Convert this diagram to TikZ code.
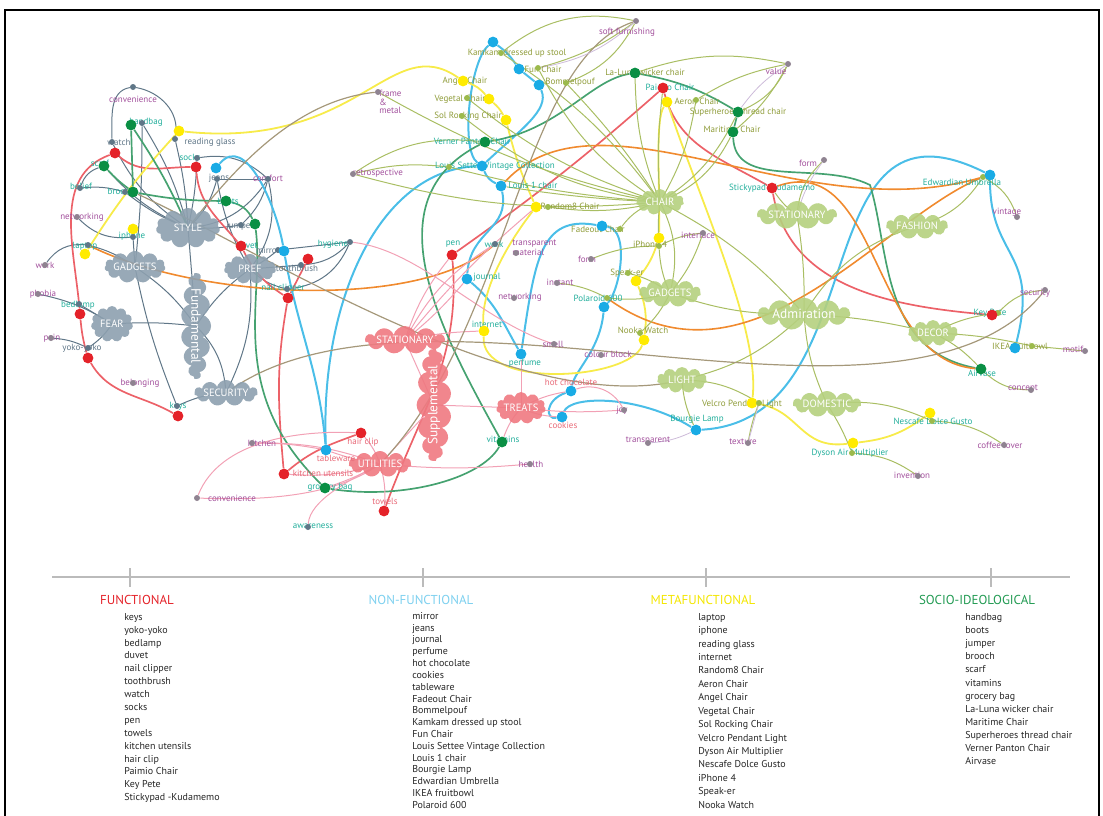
\documentclass[tikz,border=0pt]{standalone}
\usepackage{fontspec}
\setmainfont{PT Sans}
\usetikzlibrary{shapes.symbols}

\definecolor{slate}{HTML}{5F7687}
\definecolor{attrgrey}{HTML}{8F8391}
\definecolor{olivedot}{HTML}{9CBA4C}
\definecolor{dotred}{HTML}{E42229}
\definecolor{dotblue}{HTML}{19ABE5}
\definecolor{dotyellow}{HTML}{FFEB00}
\definecolor{dotgreen}{HTML}{0A8F44}
\definecolor{greyclus}{HTML}{8DA0AF}
\definecolor{pinkclus}{HTML}{EF7981}
\definecolor{greenclus}{HTML}{B5D07E}
\definecolor{labteal}{HTML}{22AE9B}
\definecolor{labpurple}{HTML}{A2509C}
\definecolor{labolive}{HTML}{8F9C3A}
\definecolor{labpink}{HTML}{E86A78}
\definecolor{linered}{HTML}{EC6168}
\definecolor{lineblue}{HTML}{4ABEE8}
\definecolor{lineyellow}{HTML}{F7EB4A}
\definecolor{linegreen}{HTML}{45A270}
\definecolor{lineolive}{HTML}{A9BE63}
\definecolor{linepink}{HTML}{F2A1B5}
\definecolor{lineorange}{HTML}{F08A2E}
\definecolor{linebrown}{HTML}{A5987A}
\definecolor{linelav}{HTML}{CDBBD9}
\definecolor{rulegrey}{HTML}{BBBBBB}
\definecolor{nfblue}{HTML}{7DD0EF}
\definecolor{metayel}{HTML}{F3E600}
\definecolor{socgreen}{HTML}{219A52}

\pgfdeclarelayer{bg}
\pgfsetlayers{bg,main}

\begin{document}
\begin{tikzpicture}[x=0.25mm, y=-0.25mm,
  lab/.style={inner sep=0pt, font=\fontsize{6.4}{7}\selectfont},
  labT/.style={lab, text=labteal},
  labP/.style={lab, text=labpurple},
  labO/.style={lab, text=labolive},
  labS/.style={lab, text=slate},
  labK/.style={lab, text=labpink},
  bigdot/.style={circle, inner sep=0pt, minimum size=2.7mm},
  rdot/.style={bigdot, fill=dotred},
  bdot/.style={bigdot, fill=dotblue},
  ydot/.style={bigdot, fill=dotyellow},
  gdot/.style={bigdot, fill=dotgreen},
  smalldot/.style={circle, inner sep=0pt, minimum size=1.5mm},
  sdot/.style={smalldot, fill=slate},
  adot/.style={smalldot, fill=attrgrey},
  odot/.style={smalldot, fill=olivedot},
  clus/.style={cloud, cloud puffs=11, cloud ignores aspect, inner sep=0pt, text=white,
    font=\fontsize{7.5}{8}\selectfont, fill opacity=0.9, text opacity=1},
  grcl/.style={clus, fill=greyclus},
  pkcl/.style={clus, fill=pinkclus},
  gncl/.style={clus, fill=greenclus},
  sline/.style={draw=slate, line width=0.25mm},
  rline/.style={draw=linered, line width=0.42mm},
  bline/.style={draw=lineblue, line width=0.5mm},
  yline/.style={draw=lineyellow, line width=0.45mm},
  gline/.style={draw=linegreen, line width=0.42mm},
  oline/.style={draw=lineolive, line width=0.25mm},
  pline/.style={draw=linepink, line width=0.25mm},
  orline/.style={draw=lineorange, line width=0.4mm},
  brline/.style={draw=linebrown, line width=0.3mm},
  lvline/.style={draw=linelav, line width=0.2mm},
  head/.style={inner sep=0pt, font=\fontsize{9.2}{10}\selectfont},
  itemlist/.style={anchor=north west, align=left, inner sep=0pt, text=black!85}]
\useasboundingbox (0,0) rectangle (1103,815);
\draw[line width=0.6mm] (5,830) -- (5,10) -- (1099,10) -- (1099,830);

% clusters
\node[grcl, minimum width=16mm, minimum height=10mm] (sty) at (188,228) {STYLE};
\node[grcl, minimum width=15mm, minimum height=8mm] (gad) at (135,267) {GADGETS};
\node[grcl, minimum width=13mm, minimum height=7.5mm] (pref) at (250,269) {PREF};
\node[grcl, rotate=-90, cloud puffs=15, minimum width=22mm, minimum height=7mm, font=\fontsize{9.5}{10}\selectfont] (fund) at (196,326) {Fundamental};
\node[grcl, minimum width=10.5mm, minimum height=9mm] (fear) at (112,324) {FEAR};
\node[grcl, minimum width=15mm, minimum height=6.5mm] (sec) at (226,393) {SECURITY};
\node[pkcl, minimum width=15.5mm, minimum height=6.5mm] (pst) at (405,340) {STATIONARY};
\node[pkcl, rotate=90, cloud puffs=15, minimum width=22mm, minimum height=7.5mm, font=\fontsize{9.5}{10}\selectfont] (supp) at (434,405) {Supplemental};
\node[pkcl, minimum width=11mm, minimum height=8mm] (treat) at (521,408) {TREATS};
\node[pkcl, minimum width=12.5mm, minimum height=6.5mm] (util) at (380,464) {UTILITIES};
\node[gncl, minimum width=12mm, minimum height=6.5mm] (chair) at (660,202) {CHAIR};
\node[gncl, minimum width=19mm, minimum height=7mm] (gst) at (797,215) {STATIONARY};
\node[gncl, minimum width=15.5mm, minimum height=6.5mm] (fash) at (917,226) {FASHION};
\node[gncl, minimum width=15.5mm, minimum height=7mm] (ggad) at (670,293) {GADGETS};
\node[gncl, minimum width=23mm, minimum height=7mm, font=\fontsize{9.5}{10}\selectfont] (admi) at (804,314) {Admiration};
\node[gncl, minimum width=12.5mm, minimum height=6.5mm] (deco) at (933,333) {DECOR};
\node[gncl, minimum width=12.5mm, minimum height=6.5mm] (light) at (682,380) {LIGHT};
\node[gncl, minimum width=15.5mm, minimum height=6.5mm] (dome) at (827,404) {DOMESTIC};

% style, pref, fear
\node[labP] at (133,99) {convenience}; \node[sdot] (conv) at (133,87) {};
\node[labT] at (146,122) {handbag}; \node[sdot] (hbag) at (142,123) {}; \node[gdot] (hbagG) at (131,125) {};
\node[labS] at (119,142) {watch}; \node[sdot] (watch) at (112,142) {}; \node[rdot] (watchR) at (115,153) {};
\node[labS] at (210,142) {reading glass}; \node[sdot] (rgl) at (175,139) {}; \node[ydot] (rglY) at (179,131) {};
\node[labT] at (100,163) {scarf}; \node[gdot] (scarfG) at (104,166) {};
\node[labT] at (190,157) {socks}; \node[sdot] (socks) at (197,158) {}; \node[rdot] (socksR) at (196,167) {};
\node[labS] at (219,178) {jeans}; \node[sdot] (jeans) at (217,179) {}; \node[bdot] (jeansB) at (216,168) {};
\node[labP] at (268,178) {comfort}; \node[sdot] (comf) at (268,179) {};
\node[labT] at (81,186) {belief}; \node[sdot] (belief) at (80,188) {};
\node[labT] at (121,191) {brooch}; \node[sdot] (brooch) at (125,192) {}; \node[gdot] (broochG) at (133,192) {};
\node[labT] at (228,201) {boots}; \node[gdot] (bootsG) at (226,201) {};
\node[labP] at (82,217) {networking}; \node[adot] (netw) at (77,217) {};
\node[labS] at (240,226) {jumper}; \node[sdot] (jump) at (241,225) {}; \node[gdot] (jumpG) at (255,224) {};
\node[labT] at (132,236) {iphone}; \node[ydot] (iphY) at (133,229) {}; \node[sdot] (iph) at (133,237) {};
\node[labT] at (85,246) {laptop}; \node[sdot] (lapt) at (88,245) {}; \node[ydot] (laptY) at (85,254) {};
\node[labT] at (247,245) {duvet}; \node[rdot] (duvR) at (241,246) {};
\node[labS] at (268,250) {mirror}; \node[sdot] (mirr) at (278,250) {}; \node[bdot] (mirrB) at (284,251) {};
\node[labT] at (333,244) {hygiene}; \node[sdot] (hyg) at (350,242) {};
\node[labS] at (297,268) {toothbrush}; \node[sdot] (tooth) at (301,265) {}; \node[rdot] (toothR) at (308,259) {};
\node[labP] at (45,265) {work}; \node[adot] (work) at (45,265) {};
\node[labT] at (283,288) {nail clipper}; \node[sdot] (nail) at (287,289) {}; \node[rdot] (nailR) at (288,298) {};
\node[labP] at (43,294) {phobia}; \node[adot] (phob) at (38,294) {};
\node[labT] at (78,305) {bedlamp}; \node[sdot] (bedl) at (79,304) {}; \node[rdot] (bedlR) at (80,314) {};
\node[labP] at (52,338) {pain}; \node[adot] (pain) at (51,338) {};
\node[labS] at (82,348) {yoko-yoko}; \node[sdot] (yoko) at (88,348) {}; \node[rdot] (yokoR) at (88,358) {};
\node[labP] at (140,383) {belonging}; \node[adot] (belong) at (133,383) {};
\node[labT] at (178,406) {keys}; \node[sdot] (keys) at (177,406) {}; \node[rdot] (keysR) at (178,416) {};

% utilities
\node[labP] at (262,443) {kitchen}; \node[adot] (kitch) at (252,443) {};
\node[labK] at (363,442) {hair clip}; \node[rdot] (hairR) at (361,433) {};
\node[labK] at (336,458) {tableware}; \node[bdot] (tabwB) at (326,450) {};
\node[labK] at (323,473) {kitchen utensils}; \node[rdot] (kutR) at (284,474) {};
\node[labT] at (330,487) {grocery bag}; \node[gdot] (grocG) at (325,488) {};
\node[labP] at (232,498) {convenience}; \node[adot] (conv2) at (197,498) {};
\node[labK] at (385,501) {towels}; \node[rdot] (towR) at (384,511) {};
\node[labT] at (313,526) {awareness}; \node[sdot] (aware) at (308,527) {};
\node[labT] at (503,439) {vitamins}; \node[gdot] (vitG) at (502,442) {};
\node[labP] at (531,464) {health}; \node[adot] (health) at (530,464) {};

% middle
\node[labT] at (453,244) {pen}; \node[rdot] (penR) at (452,255) {};
\node[labT] at (494,244) {work}; \node[sdot] (work2) at (495,244) {};
\node[labP, align=left, anchor=west, font=\fontsize{6.4}{5.8}\selectfont] at (512,248) {transparent\\material}; \node[adot] (transm) at (516,253) {};
\node[labT] at (487,277) {journal}; \node[bdot] (journB) at (467,279) {};
\node[labP] at (560,282) {instant}; \node[adot] (inst) at (557,283) {};
\node[labP] at (520,297) {networking}; \node[adot] (netw2) at (514,298) {};
\node[labT] at (598,298) {Polaroid 600}; \node[odot] (polar) at (607,298) {}; \node[bdot] (polarB) at (604,307) {};
\node[labT] at (487,324) {internet}; \node[ydot] (intY) at (484,331) {};
\node[labO] at (643,330) {Nooka Watch}; \node[odot] (nooka) at (640,333) {}; \node[ydot] (nookaY) at (644,340) {};
\node[labP] at (553,344) {smell}; \node[adot] (smell) at (554,344) {};
\node[labT] at (525,363) {perfume}; \node[bdot] (perfB) at (521,354) {};
\node[labP] at (608,354) {colour block}; \node[adot] (colb) at (601,355) {};
\node[labK] at (571,382) {hot chocolate}; \node[bdot] (hotcB) at (571,391) {};
\node[labP] at (622,410) {joy}; \node[adot] (joy) at (624,410) {};
\node[labK] at (563,425) {cookies}; \node[bdot] (cookB) at (562,417) {};
\node[labT] at (697,419) {Bourgie Lamp}; \node[bdot] (bourgB) at (696,430) {};
\node[labP] at (648,441) {transparent}; \node[adot] (transp) at (648,443) {};
\node[labO] at (598,229) {Fadeout Chair}; \node[bdot] (fadeB) at (602,226) {}; \node[odot] (fade) at (620,229) {};
\node[labP] at (587,259) {form}; \node[adot] (form) at (591,259) {};
\node[labO] at (650,244) {iPhone 4}; \node[ydot] (iph4Y) at (659,238) {}; \node[odot] (iph4) at (659,246) {};
\node[labP] at (698,235) {interface}; \node[adot] (iface) at (703,233) {};
\node[labO] at (627,273) {Speak-er}; \node[odot] (speak) at (628,273) {}; \node[ydot] (speakY) at (636,281) {};
\node[labO] at (570,206) {Random8 Chair}; \node[ydot] (randY) at (536,207) {}; \node[odot] (rand) at (548,207) {};

% chairs on top
\node[labP] at (627,32) {soft furnishing}; \node[adot] (soft) at (636,21) {};
\node[labO] at (517,53) {Kamkam dressed up stool}; \node[bdot] (kamkB) at (493,42) {}; \node[odot] (kamk) at (501,53) {};
\node[labO] at (543,69) {Fun Chair}; \node[bdot] (funB) at (519,69) {}; \node[odot] (fun) at (538,68) {};
\node[labO] at (570,82) {Bommelpouf}; \node[bdot] (bommB) at (539,85) {}; \node[odot] (bomm) at (566,83) {};
\node[labO] at (645,72) {La-Luna wicker chair}; \node[gdot] (lalunaG) at (635,73) {};
\node[labO] at (465,81) {Angel Chair}; \node[ydot] (angelY) at (463,81) {};
\node[labT] at (670,87) {Paimio Chair}; \node[rdot] (paimR) at (663,88) {};
\node[labP, align=left, anchor=west, font=\fontsize{6.4}{5.9}\selectfont] at (379,102) {frame\\\&\\metal}; \node[adot] (frame) at (378,92) {};
\node[labO] at (460,99) {Vegetal Chair}; \node[ydot] (vegY) at (489,99) {}; \node[odot] (veg) at (467,98) {};
\node[labO] at (697,101) {Aeron Chair}; \node[ydot] (aeronY) at (667,102) {}; \node[odot] (aeron) at (696,100) {};
\node[labO] at (468,116) {Sol Rocking Chair}; \node[ydot] (solY) at (506,120) {}; \node[odot] (sol) at (462,116) {};
\node[labO] at (738,112) {Superheroes thread chair}; \node[gdot] (superG) at (738,112) {};
\node[labO] at (732,129) {Maritime Chair}; \node[gdot] (maritG) at (733,132) {};
\node[labP] at (776,71) {value}; \node[adot] (value) at (788,64) {};
\node[labT] at (472,141) {Verner Panton Chair}; \node[gdot] (vernG) at (485,142) {};
\node[labP] at (378,173) {retrospective}; \node[adot] (retro) at (353,174) {};
\node[labT] at (495,166) {Louis Settee Vintage Collection}; \node[bdot] (lsetB) at (482,166) {}; \node[odot] (lset) at (449,167) {};
\node[labT] at (533,185) {Louis 1 chair}; \node[bdot] (lou1B) at (501,186) {};

% right side
\node[labP] at (808,163) {form}; \node[adot] (form2) at (824,160) {};
\node[labT] at (772,188) {Stickypad -Kudamemo}; \node[rdot] (stickR) at (772,188) {};
\node[labT] at (962,182) {Edwardian Umbrella}; \node[odot] (edw) at (983,177) {}; \node[bdot] (edwB) at (990,175) {};
\node[labP] at (1007,212) {vintage}; \node[adot] (vint) at (1017,217) {};
\node[labP] at (1035,293) {security}; \node[adot] (secur) at (1045,290) {};
\node[labT] at (990,313) {Key Pete}; \node[odot] (keyp) at (998,313) {}; \node[rdot] (keypR) at (992,315) {};
\node[labO] at (1020,346) {IKEA fruitbowl}; \node[odot] (ikea) at (1032,346) {}; \node[bdot] (ikeaB) at (1015,348) {};
\node[labP] at (1073,349) {motif}; \node[adot] (motif) at (1085,351) {};
\node[labT] at (982,373) {Airvase}; \node[gdot] (airvG) at (981,369) {};
\node[labP] at (1023,389) {concept}; \node[adot] (conc) at (1031,390) {};
\node[labO] at (742,404) {Velcro Pendant Light}; \node[ydot] (velY) at (752,403) {}; \node[odot] (vel) at (759,403) {};
\node[labT] at (933,421) {Nescafe Dolce Gusto}; \node[ydot] (nescY) at (930,413) {}; \node[odot] (nesc) at (932,421) {};
\node[labP] at (743,442) {texture}; \node[adot] (txtr) at (748,443) {};
\node[labP] at (1000,445) {coffee lover}; \node[adot] (coff) at (1004,445) {};
\node[labT] at (850,453) {Dyson Air Multiplier}; \node[ydot] (dysY) at (853,443) {}; \node[odot] (dys) at (852,453) {};
\node[labP] at (912,475) {invention}; \node[adot] (inv) at (918,476) {};
\coordinate (gbend) at (870,185);

\begin{pgfonlayer}{bg}
% grey links
\draw[sline] (sty.center) to[bend right=8] (hbag);
\draw[sline] (sty.center) to[bend left=15] (watch);
\draw[sline] (sty.center) to[bend right=5] (rgl);
\draw[sline] (sty.center) to[bend left=12] (scarfG);
\draw[sline] (sty.center) to[bend right=5] (socks);
\draw[sline] (sty.center) to[bend right=15] (jeans);
\draw[sline] (sty.center) to[bend left=8] (brooch);
\draw[sline] (sty.center) to[bend right=5] (jump);
\draw[sline] (sty.center) to[bend right=25] (comf);
\draw[sline] (sty.center) -- (fund.center);
\draw[sline] (belief) to[bend left=10] (brooch);
\draw[sline] (conv) to[out=190,in=90] (watch);
\draw[sline] (conv) to[out=-10,in=80] (rgl);
\draw[sline] (hbag) to[bend left=3] (gad.center);
\draw[sline] (scarfG) to[bend right=25] (belief);
\draw[sline] (netw) to[bend right=25] (iph);
\draw[sline] (iph) -- (gad.center);
\draw[sline] (lapt) to[bend right=30] (work);
\draw[sline] (lapt) to[bend left=10] (gad.center);
\draw[sline] (socks) to[bend left=25] (comf);
\draw[sline] (jeans) -- (comf);
\draw[sline] (comf) to[bend left=25] (pref.center);
\draw[sline] (comf) to[bend left=15] (jump);
\draw[sline] (jeans) to[bend right=10] (pref.center);
\draw[sline] (pref.center) to[bend right=5] (mirr);
\draw[sline] (pref.center) -- (tooth);
\draw[sline] (pref.center) to[bend right=15] (nail);
\draw[sline] (pref.center) to[bend right=10] (fund.center);
\draw[sline] (mirr) -- (hyg);
\draw[sline] (tooth) to[bend right=20] (hyg);
\draw[sline] (nail) to[bend right=30] (hyg);
\draw[sline] (gad.center) to[bend left=10] (fund.center);
\draw[sline] (fund.center) to[bend right=5] (fear.center);
\draw[sline] (fund.center) to[bend left=20] (sec.center);
\draw[sline] (fear.center) to[bend right=10] (phob);
\draw[sline] (fear.center) -- (bedl);
\draw[sline] (fear.center) to[bend left=10] (yoko);
\draw[sline] (pain) to[bend left=10] (yoko);
\draw[sline] (sec.center) to[bend right=10] (keys);
\draw[sline] (keys) to[bend left=5] (gad.center);
\draw[sline] (sec.center) to[bend right=15] (pref.center);
% functional
\draw[rline] (watchR) to[out=200,in=95] (bedlR);
\draw[rline] (watchR) to[out=-40,in=180] (socksR);
\draw[rline] (bedlR) to[bend right=5] (yokoR);
\draw[rline] (yokoR) to[out=-60,in=150] (keysR);
\draw[rline] (socksR) to[out=-85,in=130] (duvR);
\draw[rline] (duvR) to[bend right=15] (nailR);
\draw[rline] (toothR) -- (nailR);
\draw[rline] (nailR) to[out=-100,in=95] (kutR);
\draw[rline] (kutR) to[out=40,in=200] (hairR);
\draw[rline] (penR) to[out=-85,in=70] (towR);
\draw[rline] (paimR) to[bend left=3] (penR);
\draw[rline] (paimR) to[out=-75,in=150] (stickR);
\draw[rline] (stickR) to[out=-80,in=175] (keypR);
% non-functional
\draw[bline] (jeansB) to[out=50,in=100] (mirrB);
\draw[bline] (mirrB) to[out=-80,in=95] (tabwB);
\draw[bline] (lsetB) .. controls (380,170) and (320,300) .. (tabwB);
\draw[bline] (kamkB) to[bend left=10] (funB);
\draw[bline] (funB) -- (bommB);
\draw[bline] (kamkB) .. controls (470,60) and (460,150) .. (lsetB);
\draw[bline] (bommB) .. controls (550,110) and (520,130) .. (lsetB);
\draw[bline] (lsetB) to[bend right=20] (lou1B);
\draw[bline] (lou1B) .. controls (510,230) and (470,230) .. (journB);
\draw[bline] (journB) to[out=-40,in=120] (perfB);
\draw[bline] (perfB) .. controls (535,260) and (540,215) .. (fadeB);
\draw[bline] (fadeB) .. controls (630,230) and (620,290) .. (polarB);
\draw[bline] (polarB) .. controls (600,350) and (575,370) .. (hotcB);
\draw[bline] (hotcB) .. controls (545,400) and (545,420) .. (cookB);
\draw[bline] (cookB) .. controls (570,395) and (640,395) .. (bourgB);
\draw[bline] (bourgB) .. controls (880,420) and (800,80) .. (edwB);
\draw[bline] (edwB) .. controls (990,260) and (1040,250) .. (ikeaB);
% metafunctional
\draw[yline] (laptY) to[bend left=5] (rglY);
\draw[yline] (rglY) .. controls (360,150) and (390,30) .. (angelY);
\draw[yline] (angelY) to[bend left=15] (vegY);
\draw[yline] (vegY) to[bend left=10] (solY);
\draw[yline] (solY) to[bend right=5] (randY);
\draw[yline] (randY) .. controls (510,240) and (480,290) .. (intY);
\draw[yline] (intY) .. controls (480,390) and (630,380) .. (nookaY);
\draw[yline] (nookaY) to[bend right=15] (speakY);
\draw[yline] (speakY) to[bend right=10] (iph4Y);
\draw[yline] (iph4Y) .. controls (660,180) and (655,120) .. (aeronY);
\draw[yline] (aeronY) .. controls (700,200) and (760,330) .. (velY);
\draw[yline] (velY) .. controls (800,410) and (800,450) .. (dysY);
\draw[yline] (dysY) to[bend right=15] (nescY);
% socio-ideological
\draw[gline] (hbagG) -- (broochG);
\draw[gline] (hbagG) to[bend left=5] (sty.center);
\draw[gline] (scarfG) to[bend right=5] (broochG);
\draw[gline] (broochG) to[bend right=5] (bootsG);
\draw[gline] (bootsG) to[bend left=25] (jumpG);
\draw[gline] (jumpG) .. controls (265,300) and (225,390) .. (grocG);
\draw[gline] (grocG) .. controls (400,500) and (480,480) .. (vitG);
\draw[gline] (vitG) .. controls (440,330) and (370,200) .. (vernG);
\draw[gline] (vernG) .. controls (560,130) and (590,80) .. (lalunaG);
\draw[gline] (lalunaG) to[bend left=10] (superG);
\draw[gline] (superG) -- (maritG);
\draw[gline] (maritG) .. controls (735,190) and (820,160) .. (gbend) .. controls (890,250) and (880,350) .. (airvG);
% orange
\draw[orline] (lapt) .. controls (200,300) and (420,310) .. (work2);
\draw[orline] (polar) .. controls (750,400) and (880,220) .. (edw);
\draw[orline] (lou1B) .. controls (600,80) and (800,230) .. (edw);
\draw[orline] (stickR) .. controls (880,150) and (870,360) .. (airvG);
% chairs and admiration
\draw[oline] (chair.center) to[bend right=10] (kamk);
\draw[oline] (chair.center) to[bend left=15] (fun);
\draw[oline] (chair.center) to[bend right=5] (bomm);
\draw[oline] (chair.center) to[bend left=10] (veg);
\draw[oline] (chair.center) to[bend left=15] (sol);
\draw[oline] (chair.center) to[bend left=5] (lset);
\draw[oline] (chair.center) to[bend left=10] (rand);
\draw[oline] (chair.center) to[bend right=20] (fade);
\draw[oline] (chair.center) to[bend right=10] (aeron);
\draw[oline] (chair.center) to[bend right=15] (superG);
\draw[oline] (chair.center) to[bend right=20] (maritG);
\draw[oline] (chair.center) to[bend left=10] (lalunaG);
\draw[oline] (chair.center) to[bend left=5] (paimR);
\draw[oline] (chair.center) to[bend left=8] (frame);
\draw[oline] (chair.center) to[bend left=10] (retro);
\draw[oline] (chair.center) to[bend right=5] (iph4);
\draw[oline] (chair.center) to[bend left=3] (lou1B);
\draw[oline] (soft) to[bend right=25] (kamk);
\draw[oline] (soft) to[bend left=10] (fun);
\draw[oline] (soft) to[bend left=20] (bomm);
\draw[oline] (value) to[bend right=15] (lalunaG);
\draw[oline] (value) to[bend left=20] (superG);
\draw[oline] (value) to[bend left=10] (maritG);
\draw[oline] (value) to[bend right=10] (aeron);
\draw[oline] (retro) to[bend left=10] (lset);
\draw[oline] (retro) to[bend left=20] (vernG);
\draw[oline] (ggad.center) to[bend left=10] (iph4);
\draw[oline] (ggad.center) to[bend right=10] (speak);
\draw[oline] (ggad.center) to[bend left=10] (polar);
\draw[oline] (ggad.center) to[bend left=10] (nooka);
\draw[oline] (ggad.center) to[bend right=10] (iface);
\draw[oline] (ggad.center) to[bend right=20] (chair.center);
\draw[oline] (form) to[bend left=10] (iph4);
\draw[oline] (inst) to[bend left=10] (polar);
\draw[oline] (iph4) to[bend left=10] (iface);
\draw[oline] (admi.center) to[bend right=10] (chair.center);
\draw[oline] (admi.center) to[bend left=10] (ggad.center);
\draw[oline] (admi.center) to[bend left=15] (light.center);
\draw[oline] (admi.center) to[bend right=10] (dome.center);
\draw[oline] (admi.center) to[bend left=5] (deco.center);
\draw[oline] (admi.center) to[bend right=5] (gst.center);
\draw[oline] (admi.center) to[bend left=20] (fash.center);
\draw[oline] (gst.center) to[bend left=10] (stickR);
\draw[oline] (gst.center) to[bend left=20] (form2);
\draw[oline] (fash.center) to[bend right=20] (edw);
\draw[oline] (deco.center) to[bend left=10] (keyp);
\draw[oline] (deco.center) to[bend left=5] (ikea);
\draw[oline] (deco.center) to[bend left=10] (airvG);
\draw[oline] (keyp) to[bend left=20] (secur);
\draw[oline] (ikea) -- (motif);
\draw[oline] (airvG) to[bend right=20] (conc);
\draw[oline] (light.center) to[bend right=10] (bourgB);
\draw[oline] (light.center) to[bend left=15] (vel);
\draw[oline] (dome.center) to[bend left=5] (dys);
\draw[oline] (dome.center) to[bend left=15] (nesc);
\draw[oline] (nesc) to[bend left=15] (coff);
\draw[oline] (dys) to[bend left=15] (inv);
\draw[oline] (vel) to[bend right=5] (txtr);
\draw[oline] (edw) to[bend left=20] (vint);
% supplemental
\draw[pline] (pst.center) to[bend left=10] (penR);
\draw[pline] (pst.center) to[bend left=15] (work2);
\draw[pline] (pst.center) to[bend right=5] (journB);
\draw[pline] (pst.center) to[bend left=5] (intY);
\draw[pline] (pst.center) to[bend left=5] (randY);
\draw[pline] (pst.center) -- (supp.center);
\draw[pline] (supp.center) -- (util.center);
\draw[pline] (supp.center) -- (treat.center);
\draw[pline] (util.center) to[bend right=10] (kitch);
\draw[pline] (util.center) to[bend right=10] (hairR);
\draw[pline] (util.center) to[bend left=5] (tabwB);
\draw[pline] (util.center) to[bend left=10] (kutR);
\draw[pline] (util.center) to[bend left=5] (grocG);
\draw[pline] (util.center) .. controls (330,500) and (250,500) .. (conv2);
\draw[pline] (util.center) to[bend left=10] (towR);
\draw[pline] (util.center) .. controls (350,480) and (310,500) .. (aware);
\draw[pline] (util.center) to[bend right=5] (health);
\draw[pline] (conv2) .. controls (220,440) and (300,430) .. (hairR);
\draw[pline] (kitch) to[bend left=5] (tabwB);
\draw[pline] (treat.center) -- (perfB);
\draw[pline] (treat.center) to[bend left=10] (hotcB);
\draw[pline] (treat.center) to[bend right=10] (cookB);
\draw[pline] (treat.center) to[bend right=10] (vitG);
\draw[pline] (treat.center) to[bend right=5] (joy);
\draw[pline] (hotcB) to[bend left=40] (joy);
\draw[pline] (hyg) .. controls (420,250) and (480,320) .. (smell);
% long taupe links
\draw[brline] (soft) .. controls (520,60) and (510,330) .. (util.center);
\draw[brline] (frame) .. controls (300,100) and (240,160) .. (sty.center);
\draw[brline] (sec.center) .. controls (420,250) and (900,470) .. (secur);
\draw[brline] (broochG) .. controls (260,250) and (520,420) .. (light.center);
\draw[lvline] (soft) to[bend left=15] (fun);
\draw[lvline] (value) to[bend right=10] (superG);
\draw[lvline] (form2) to[bend right=10] (gst.center);
\draw[lvline] (transp) to[bend right=10] (bourgB);
\draw[lvline] (txtr) -- (vel);
\end{pgfonlayer}

% legend
\draw[rulegrey, line width=0.3mm] (52,577) -- (1070,577);
\draw[rulegrey, line width=0.3mm] (130,568) -- (130,587) (423,568) -- (423,587) (706,568) -- (706,587) (991,568) -- (991,587);
\node[head, text=dotred] (hfunc) at (137,600) {FUNCTIONAL};
\node[head, text=nfblue] (hnon) at (421,600) {NON-FUNCTIONAL};
\node[head, text=metayel] (hmeta) at (703,600) {METAFUNCTIONAL};
\node[head, text=socgreen] (hsoc) at (977,600) {SOCIO-IDEOLOGICAL};
\node[itemlist, font=\fontsize{7.1}{9.17}\selectfont] (lfunc) at (124,613) {keys\\yoko-yoko\\bedlamp\\duvet\\nail clipper\\toothbrush\\watch\\socks\\pen\\towels\\kitchen utensils\\hair clip\\Paimio Chair\\Key Pete\\Stickypad -Kudamemo};
\node[itemlist, font=\fontsize{7.1}{8.4}\selectfont] (lnon) at (412,612) {mirror\\jeans\\journal\\perfume\\hot chocolate\\cookies\\tableware\\Fadeout Chair\\Bommelpouf\\Kamkam dressed up stool\\Fun Chair\\Louis Settee Vintage Collection\\Louis 1 chair\\Bourgie Lamp\\Edwardian Umbrella\\IKEA fruitbowl\\Polaroid 600};
\node[itemlist, font=\fontsize{7.1}{9.55}\selectfont] (lmeta) at (698,613) {laptop\\iphone\\reading glass\\internet\\Random8 Chair\\Aeron Chair\\Angel Chair\\Vegetal Chair\\Sol Rocking Chair\\Velcro Pendant Light\\Dyson Air Multiplier\\Nescafe Dolce Gusto\\iPhone 4\\Speak-er\\Nooka Watch};
\node[itemlist, font=\fontsize{7.1}{9.35}\selectfont] (lsoc) at (965,613) {handbag\\boots\\jumper\\brooch\\scarf\\vitamins\\grocery bag\\La-Luna wicker chair\\Maritime Chair\\Superheroes thread chair\\Verner Panton Chair\\Airvase};
\end{tikzpicture}
\end{document}
